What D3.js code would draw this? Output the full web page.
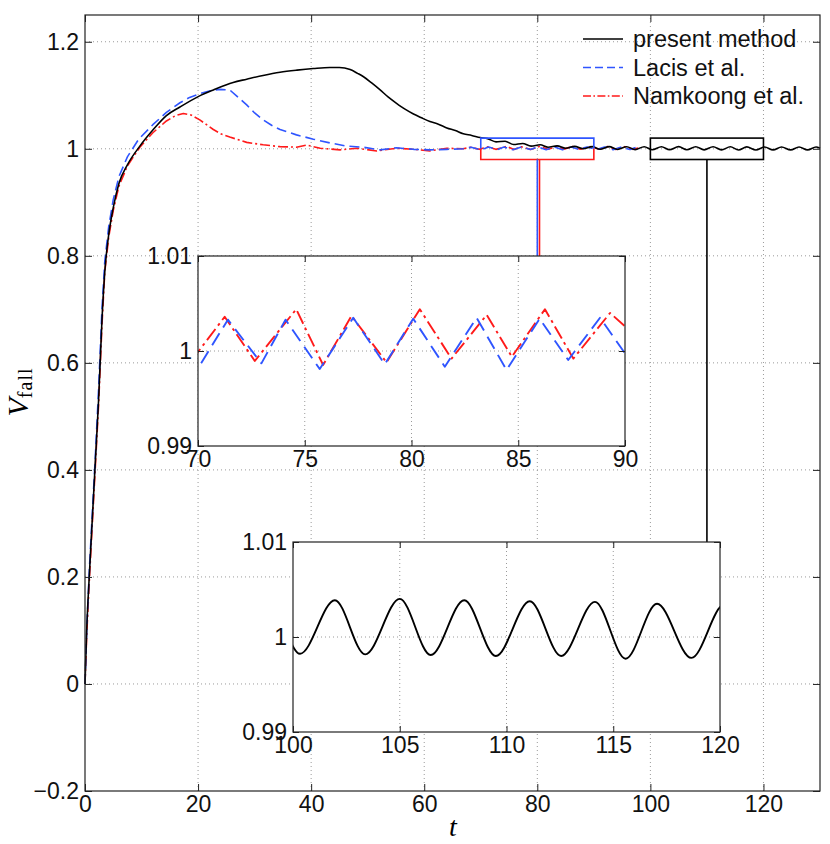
<!DOCTYPE html>
<html><head><meta charset="utf-8">
<script src="https://cdn.jsdelivr.net/npm/d3@7"></script>
<style>body{margin:0;background:#fff}svg{display:block}</style>
</head><body>
<svg id="c" width="830" height="844"></svg>
<script>
// ---------------- data ----------------
const presentMethod = [
  [0,0],[0.3,0.1],[0.8,0.21],[1.3,0.31],[1.8,0.41],[2.4,0.53],[3.0,0.68],[3.5,0.77],[4.2,0.84],[5.0,0.89],
  [6.0,0.935],[7.5,0.97],[9.7,1.005],[12,1.035],[14.4,1.062],[16.8,1.078],[20.1,1.098],[22.7,1.110],[26.2,1.124],
  [28.6,1.130],[31.5,1.137],[34.5,1.143],[37.5,1.147],[40.4,1.150],[43.3,1.152],[45,1.152],[46.9,1.148],[48.2,1.141],
  [49.2,1.135],[50.7,1.123],[52.2,1.110],[53.6,1.097],[55.1,1.085],[56.6,1.074],[58.1,1.065],[59.5,1.058],[61.0,1.051],
  [62.5,1.046],[64.0,1.039],[65.5,1.034],[66.9,1.028],[68.4,1.025],[69.9,1.021],
  [71.2,1.019],[72.7,1.013],[74.3,1.014],[75.8,1.008],[77.4,1.010],[78.9,1.005],[80.5,1.0075],[81.9,1.003],
  [83.5,1.0055],[85.0,1.001],[86.6,1.0045],[88.1,1.0],[89.7,1.004],[91.1,0.9992],[92.7,1.004],[94.2,0.9988],
  [95.8,1.0039],[97.3,0.9985],[98.9,1.0039],[100.33,0.99824],[101.96,1.00387],[103.38,0.99817],[105.0,1.00401],
  [106.45,0.9981],[108.02,1.00387],[109.5,0.9980],[111.09,1.00377],[112.56,0.9980],[114.14,1.0037],[115.58,0.99771],
  [117.05,1.0035],[118.66,0.9978],[120.2,1.0034],[121.7,0.9979],[123.2,1.0034],[124.8,0.9979],[126.3,1.0033],
  [127.8,0.9979],[129.3,1.0033],[130,1.001]
];
const lacis = [
  [0,0],[0.3,0.1],[0.8,0.22],[1.3,0.32],[1.8,0.42],[2.4,0.55],[3.0,0.70],[3.5,0.79],[4.2,0.855],[5.0,0.905],
  [6.0,0.948],[7.5,0.985],[9.5,1.018],[12,1.045],[14.4,1.068],[16.8,1.086],[18.5,1.096],[20.3,1.103],[22,1.108],
  [23.9,1.111],[25.6,1.110],[27,1.097],[28.6,1.082],[30,1.067],[31.5,1.054],[33,1.044],[34.5,1.036],[37.4,1.026],
  [40.4,1.018],[43.3,1.011],[46.3,1.005],[49.2,1.003],[52.2,0.998],[55.1,1.002],[58.1,0.999],[61,0.998],[64,0.999],
  [66.9,1.0],[68.3,1.003],[70,0.99818],[71.4,1.0033],[72.97,0.9987],[74.1,1.0033],[75.7,0.9981],[77.27,1.0035],
  [78.75,0.9986],[80.08,1.0034],[81.56,0.99835],[83.05,1.0035],[84.45,0.998],[86.0,1.0034],[87.34,0.99905],
  [88.83,1.0035],[90,0.99975],[90.4,0.9985],[91.9,1.0034],[93.4,0.9984],[94.9,1.0034],[96.4,0.9985],[97.5,1.003],
  [98.2,0.999]
];
const namkoong = [
  [0,0],[0.3,0.09],[0.8,0.2],[1.3,0.30],[1.8,0.40],[2.4,0.52],[3.0,0.67],[3.5,0.77],[4.2,0.835],[5.0,0.885],
  [6.0,0.93],[7.5,0.968],[9.7,1.003],[12,1.03],[14.4,1.052],[16,1.062],[17.4,1.066],[18.8,1.063],[20.3,1.054],
  [21.5,1.045],[22.7,1.036],[24,1.028],[25.6,1.022],[28.6,1.012],[31.5,1.0075],[34.5,1.004],[37.4,1.003],
  [39.2,1.007],[41.6,1.001],[45.1,0.998],[48.1,1.001],[51.6,0.996],[55.1,1.001],[58.1,0.999],[61,0.996],[64,1.001],
  [66.9,1.0],[68.2,1.003],[69.7,0.999],[70,0.9999],[71.25,1.0036],[72.66,0.99895],[74.6,1.0044],[75.86,0.99853],
  [77.19,1.0037],[78.83,0.9988],[80.39,1.0044],[81.875,0.9992],[83.52,1.0038],[84.7,0.9994],[86.25,1.0044],
  [87.58,0.9992],[89.3,1.004],[90,1.0026],[90.9,0.9991],[92.4,1.0042],[93.9,0.9989],[95.4,1.004],[96.9,0.999],
  [98.0,1.002]
];
const legendLabels = ["present method", "Lacis et al.", "Namkoong et al."];
const mainXTicks = [0,20,40,60,80,100,120];
const mainYTicks = [-0.2,0,0.2,0.4,0.6,0.8,1,1.2];
const insetYTicks = [0.99,1,1.01];
const inset1XTicks = [70,75,80,85,90];
const inset2XTicks = [100,105,110,115,120];
const zoom1 = {t:[70,90], v:[0.98,1.02], link:80};
const zoom2 = {t:[100,120], v:[0.98,1.02], link:110};

// ---------------- styles ----------------
const BLACK = "#000", BLUE = "#2f55ff", RED = "#ff1a1a";
const SANS = "'Liberation Sans', Arial, Helvetica, sans-serif";
const SERIF = "'Liberation Serif', 'DejaVu Serif', serif";
const fmt = d => (d < 0 ? "\u2212" : "") + Math.abs(d);

const svg = d3.select("#c");
const x = d3.scaleLinear().domain([0,130]).range([85,820]);
const y = d3.scaleLinear().domain([-0.2,1.25]).range([791,15]);

function grid(g, xs, ys, xt, yt) {
  const [y0,y1] = ys.range(), [x0,x1] = xs.range();
  g.selectAll(null).data(xt.filter(d => xs(d) > x0 + 1 && xs(d) < x1 - 1)).join("line")
    .attr("x1", d => xs(d)).attr("x2", d => xs(d)).attr("y1", y0).attr("y2", y1)
    .attr("stroke", "#9a9a9a").attr("stroke-width", 1).attr("stroke-dasharray", "1,3");
  g.selectAll(null).data(yt.filter(d => ys(d) < y0 - 1 && ys(d) > y1 + 1)).join("line")
    .attr("y1", d => ys(d)).attr("y2", d => ys(d)).attr("x1", x0).attr("x2", x1)
    .attr("stroke", "#9a9a9a").attr("stroke-width", 1).attr("stroke-dasharray", "1,3");
}
function axes(g, xs, ys, xt, yt, fs, tick) {
  const [y0,y1] = ys.range(), [x0,x1] = xs.range();
  const style = sel => {
    sel.select(".domain").remove();
    sel.selectAll("line").attr("stroke", "#222").attr("stroke-width", 1);
    sel.selectAll("text").attr("font-family", SANS).attr("font-size", fs).attr("fill", "#111");
  };
  g.append("g").attr("transform", `translate(0,${y0})`)
    .call(d3.axisBottom(xs).tickValues(xt).tickFormat(fmt).tickSizeInner(-tick).tickSizeOuter(0).tickPadding(5)).call(style);
  g.append("g").attr("transform", `translate(0,${y1})`)
    .call(d3.axisTop(xs).tickValues(xt).tickFormat("").tickSizeInner(-tick).tickSizeOuter(0)).call(style);
  g.append("g").attr("transform", `translate(${x0},0)`)
    .call(d3.axisLeft(ys).tickValues(yt).tickFormat(fmt).tickSizeInner(-tick).tickSizeOuter(0).tickPadding(6)).call(style);
  g.append("g").attr("transform", `translate(${x1},0)`)
    .call(d3.axisRight(ys).tickValues(yt).tickFormat("").tickSizeInner(-tick).tickSizeOuter(0)).call(style);
  g.append("rect").attr("x", x0).attr("y", y1).attr("width", x1 - x0).attr("height", y0 - y1)
    .attr("fill", "none").attr("stroke", "#222").attr("stroke-width", 1.2);
}
const seriesDefs = [
  {key: "namkoong", data: namkoong, color: RED, dash: [10,3,2,3], smooth: false},
  {key: "lacis", data: lacis, color: BLUE, dash: [10,5], smooth: false},
  {key: "present", data: presentMethod, color: BLACK, dash: null, smooth: true}
];
function curves(g, xs, ys, w, k, keys) {
  seriesDefs.filter(s => keys.includes(s.key)).forEach(s => {
    const line = d3.line().x(d => xs(d[0])).y(d => ys(d[1])).curve(s.smooth ? d3.curveMonotoneX : d3.curveLinear);
    g.append("path").datum(s.data).attr("d", line).attr("fill", "none").attr("stroke", s.color)
      .attr("stroke-width", w).attr("stroke-linejoin", "round")
      .attr("stroke-dasharray", s.dash ? s.dash.map(v => v * k).join(",") : null);
  });
}

// ---------------- main axes ----------------
const main = svg.append("g");
main.append("rect").attr("x", 85).attr("y", 15).attr("width", 735).attr("height", 776).attr("fill", "#fff");
grid(main, x, y, mainXTicks, mainYTicks);
curves(main, x, y, 1.6, 1, ["namkoong", "lacis", "present"]);

// zoom boxes and connectors
const bx0 = x(zoom1.t[0]), bx1 = x(zoom1.t[1]), byT = y(zoom1.v[1]), byB = y(zoom1.v[0]), byM = (byT + byB) / 2;
main.append("path").attr("d", `M${bx0},${byM}V${byT}H${bx1}V${byM}`).attr("fill", "none").attr("stroke", BLUE).attr("stroke-width", 1.6);
main.append("path").attr("d", `M${bx0},${byM}V${byB}H${bx1}V${byM}`).attr("fill", "none").attr("stroke", RED).attr("stroke-width", 1.6);
main.append("rect").attr("x", x(zoom2.t[0])).attr("y", y(zoom2.v[1]))
  .attr("width", x(zoom2.t[1]) - x(zoom2.t[0])).attr("height", y(zoom2.v[0]) - y(zoom2.v[1]))
  .attr("fill", "none").attr("stroke", BLACK).attr("stroke-width", 1.6);

// inset positions
const in1 = {x: d3.scaleLinear().domain([70,90]).range([198,625]), y: d3.scaleLinear().domain([0.99,1.01]).range([446,256])};
const in2 = {x: d3.scaleLinear().domain([100,120]).range([293,720]), y: d3.scaleLinear().domain([0.99,1.01]).range([732,542])};

main.append("line").attr("x1", x(zoom1.link)).attr("x2", x(zoom1.link)).attr("y1", byB).attr("y2", in1.y.range()[1])
  .attr("stroke", BLUE).attr("stroke-width", 1.6);
main.append("line").attr("x1", x(zoom1.link) + 2.2).attr("x2", x(zoom1.link) + 2.2).attr("y1", byB).attr("y2", in1.y.range()[1])
  .attr("stroke", RED).attr("stroke-width", 1.6);
main.append("line").attr("x1", x(zoom2.link)).attr("x2", x(zoom2.link)).attr("y1", y(zoom2.v[0])).attr("y2", in2.y.range()[1])
  .attr("stroke", BLACK).attr("stroke-width", 1.6);

axes(main, x, y, mainXTicks, mainYTicks, 23, 7);

// legend
const lg = main.append("g");
legendLabels.forEach((lab, i) => {
  const s = seriesDefs[2 - i];
  const ly = 39 + i * 28.5;
  lg.append("line").attr("x1", 583).attr("x2", 623).attr("y1", ly).attr("y2", ly)
    .attr("stroke", s.color).attr("stroke-width", 1.6).attr("stroke-dasharray", s.dash ? s.dash.map(v => v * 0.8).join(",") : null);
  lg.append("text").attr("x", 633).attr("y", ly + 8).text(lab)
    .attr("font-family", SANS).attr("font-size", 23.5).attr("fill", "#111");
});

// axis labels
svg.append("text").attr("x", 453).attr("y", 836).attr("text-anchor", "middle")
  .attr("font-family", SERIF).attr("font-style", "italic").attr("font-size", 28).text("t");
const yl = svg.append("text").attr("transform", "translate(28,392) rotate(-90)").attr("text-anchor", "middle")
  .attr("font-family", SERIF);
yl.append("tspan").attr("font-style", "italic").attr("font-size", 30).text("V");
yl.append("tspan").attr("font-size", 20).attr("dy", 4).attr("letter-spacing", 1).text("fall");

// ---------------- insets ----------------
function inset(ins, xt, id, keys) {
  const g = svg.append("g");
  const [x0,x1] = ins.x.range(), [y0,y1] = ins.y.range();
  g.append("rect").attr("x", x0).attr("y", y1).attr("width", x1 - x0).attr("height", y0 - y1).attr("fill", "#fff");
  grid(g, ins.x, ins.y, xt, insetYTicks);
  svg.append("clipPath").attr("id", id).append("rect").attr("x", x0).attr("y", y1).attr("width", x1 - x0).attr("height", y0 - y1);
  const cg = g.append("g").attr("clip-path", `url(#${id})`);
  curves(cg, ins.x, ins.y, 1.9, 1.4, keys);
  axes(g, ins.x, ins.y, xt, insetYTicks, 23, 6);
}
inset(in1, inset1XTicks, "clip1", ["namkoong", "lacis"]);
inset(in2, inset2XTicks, "clip2", ["present"]);
</script>
</body></html>
